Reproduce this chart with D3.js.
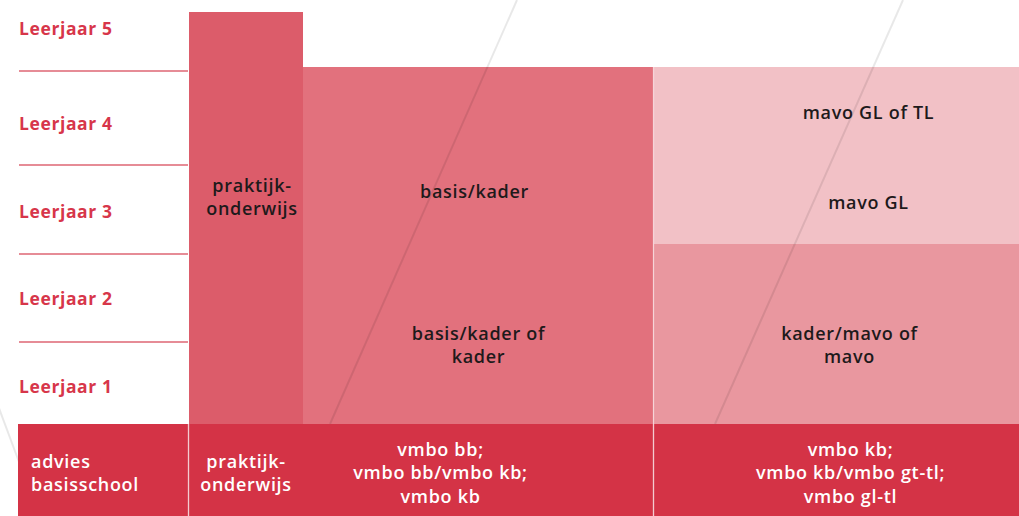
<!DOCTYPE html>
<html><head><meta charset="utf-8">
<script src="https://cdn.jsdelivr.net/npm/d3@7"></script>
<style>
html,body{margin:0;padding:0;background:#fff;}
svg{display:block;}
text{font-family:"Open Sans",Lato,sans-serif;}
</style></head>
<body>
<svg id="chart" width="1019" height="516"></svg>
<script>
// ---- data ----
const years = ["Leerjaar 1","Leerjaar 2","Leerjaar 3","Leerjaar 4","Leerjaar 5"];
const columns = ["label","praktijk","basis","mavo","end"];
// blocks: column, fromYear, toYear
const blockCols   = ["praktijk","basis","mavo","mavo"];
const blockFrom   = [0, 0, 0, 2];
const blockTo     = [5, 4, 2, 4];
const blockColors = ["#dc5c6a","#e2717d","#e9979f","#f2c1c6"];
// labels inside blocks (column, year position, lines)
const innerCols   = ["praktijk","basis","basis","mavo","mavo","mavo"];
const innerYear   = [2.53, 2.6, 0.88, 3.49, 2.47, 0.88];
const innerLabels = [["praktijk-","onderwijs"],["basis/kader"],["basis/kader of","kader"],["mavo GL of TL"],["mavo GL"],["kader/mavo of","mavo"]];
// advice row
const adviceCols   = ["label","praktijk","basis","mavo"];
const adviceLabels = [["advies","basisschool"],["praktijk-","onderwijs"],["vmbo bb;","vmbo bb/vmbo kb;","vmbo kb"],["vmbo kb;","vmbo kb/vmbo gt-tl;","vmbo gl-tl"]];

// ---- scales ----
const W = 1019, H = 516;
const x = d3.scaleOrdinal().domain(columns).range([18, 189, 303, 654, 1019]);
const nextCol = c => columns[columns.indexOf(c) + 1];
const colMid = c => (x(c) + x(nextCol(c))) / 2;
const y = d3.scaleLinear().domain([0, 1, 2, 3, 4, 5]).range([424, 334, 244, 156, 67, 12]);
const yAxis = d3.scaleLinear().domain([0, 1, 2, 3, 4, 5]).range([424, 342, 254, 165, 71, -14]);
const yLabel = d3.scaleLinear().domain([0.5, 1.5, 2.5, 3.5, 4.5]).range([386, 298, 211, 123, 28]);

const svg = d3.select("#chart");

// left axis: labels + separators
const axisG = svg.append("g");
axisG.selectAll("line").data(d3.range(1, 5)).join("line")
  .attr("x1", 19).attr("x2", x("praktijk") - 1)
  .attr("y1", d => yAxis(d)).attr("y2", d => yAxis(d))
  .attr("stroke", "#de6673").attr("stroke-width", 1.3);
axisG.selectAll("text").data(years).join("text")
  .attr("x", 19)
  .attr("y", (d, i) => yLabel(i + 0.5) + 6.5)
  .attr("fill", "#d7364a").attr("font-weight", 700).attr("font-size", 17.5)
  .attr("font-family", "Lato, sans-serif")
  .attr("textLength", 93).attr("lengthAdjust", "spacing")
  .text(d => d);

// blocks
const blocks = blockCols.map((c, i) => ({c, from: blockFrom[i], to: blockTo[i], color: blockColors[i]}));
svg.append("g").selectAll("rect").data(blocks).join("rect")
  .attr("x", d => x(d.c))
  .attr("width", d => x(nextCol(d.c)) - x(d.c))
  .attr("y", d => y(d.to))
  .attr("height", d => y(d.from) - y(d.to))
  .attr("fill", d => d.color);

// column divider between basis and mavo
svg.append("line")
  .attr("x1", x("mavo") - 0.5).attr("x2", x("mavo") - 0.5)
  .attr("y1", y(4)).attr("y2", H)
  .attr("stroke", "#fff").attr("stroke-opacity", 0.7).attr("stroke-width", 1.2);

// decorative diagonals
const diag = [[517, 0, 330, 424], [903, 0, 715, 424], [-4, 400, 22, 470]];
svg.append("g").selectAll("line").data(diag).join("line")
  .attr("x1", d => d[0]).attr("y1", d => d[1]).attr("x2", d => d[2]).attr("y2", d => d[3])
  .attr("stroke", "#000").attr("stroke-opacity", 0.09).attr("stroke-width", 2);

// label horizontal nudges (layout)
const nudge = (c, n) => c === "praktijk" ? 6 : c === "mavo" ? (n === 1 ? 32 : 13) : c === "basis" ? (n === 1 ? -4 : 0) : 0;

// inner labels
const inner = innerCols.map((c, i) => ({c, yr: innerYear[i], lines: innerLabels[i]}));
const innerG = svg.append("g").selectAll("text").data(inner).join("text")
  .attr("text-anchor", "middle")
  .attr("fill", "#1e1a1b").attr("font-size", 18).attr("font-weight", 600)
  .attr("letter-spacing", 0.7)
  .attr("transform", d => {
    const cx = colMid(d.c) + nudge(d.c, d.lines.length);
    const cy = y(d.yr) - (d.lines.length - 1) * 11.5;
    return `translate(${cx},${cy})`;
  });
innerG.selectAll("tspan").data(d => d.lines).join("tspan")
  .attr("x", 0).attr("dy", (d, i) => i === 0 ? 6.5 : 23).text(d => d);

// advice row
svg.append("rect")
  .attr("x", x("label")).attr("y", y(0))
  .attr("width", W - x("label")).attr("height", H - y(0))
  .attr("fill", "#d43346");
svg.append("g").selectAll("line").data(["praktijk", "mavo"]).join("line")
  .attr("x1", d => x(d) - 0.5).attr("x2", d => x(d) - 0.5)
  .attr("y1", y(0)).attr("y2", H)
  .attr("stroke", "#fff").attr("stroke-opacity", 0.75).attr("stroke-width", 1.3);

const advice = adviceCols.map((c, i) => ({c, lines: adviceLabels[i]}));
const advNudge = {praktijk: 0, basis: -38, mavo: 14};
const advG = svg.append("g").selectAll("text").data(advice).join("text")
  .attr("text-anchor", d => d.c === "label" ? "start" : "middle")
  .attr("fill", "#fff").attr("font-size", 18).attr("font-weight", 600)
  .attr("letter-spacing", 0.7)
  .attr("transform", d => {
    const cx = d.c === "label" ? x("label") + 13 : colMid(d.c) + advNudge[d.c];
    const cy = (y(0) + H) / 2 + 9.5 - (d.lines.length - 1) * 11.8;
    return `translate(${cx},${cy})`;
  });
advG.selectAll("tspan").data(d => d.lines).join("tspan")
  .attr("x", 0).attr("dy", (d, i) => i === 0 ? 0 : 23.5).text(d => d);
</script>
</body></html>
